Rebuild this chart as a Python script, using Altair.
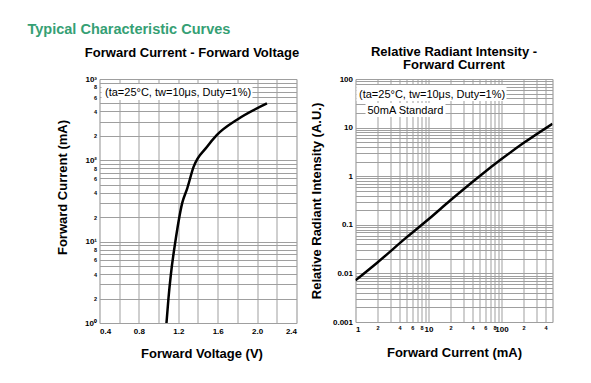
import altair as alt
import pandas as pd

# ---------------- data ----------------
# Left: Forward Current vs Forward Voltage
vf_voltage = [1.08, 1.10, 1.125, 1.17, 1.24, 1.29, 1.355, 1.49, 1.59, 1.80, 2.10]
vf_current = [1, 2, 4, 10, 30, 45, 83, 146, 204, 318, 500]

# Right: Relative Radiant Intensity vs Forward Current
ri_current = [1, 2, 5, 10, 20, 50, 100, 200, 500]
ri_intensity = [0.0072, 0.0168, 0.055, 0.13, 0.32, 1.0, 2.25, 4.8, 12]

main_title = "Typical Characteristic Curves"
left_title = "Forward Current - Forward Voltage"
right_title = ["Relative Radiant Intensity -", "Forward Current"]
left_xtitle = "Forward Voltage (V)"
left_ytitle = "Forward Current (mA)"
right_xtitle = "Forward Current (mA)"
right_ytitle = "Relative Radiant Intensity (A.U.)"
cond_text = "(ta=25°C, tw=10μs, Duty=1%)"
std_text = "50mA Standard"

# tick values / labels
lx_vals = [0.4, 0.6, 0.8, 1.0, 1.2, 1.4, 1.6, 1.8, 2.0, 2.2, 2.4]
lx_labels = [(0.4, "0.4"), (0.8, "0.8"), (1.2, "1.2"), (1.6, "1.6"), (2.0, "2.0"), (2.4, "2.4")]

ly_vals = [1, 2, 3, 4, 5, 6, 7, 8, 9, 10, 20, 30, 40, 50, 60, 70, 80, 90,
           100, 200, 300, 400, 500, 600, 700, 800, 900, 1000]
ly_major = [(1, "10⁰"), (10, "10¹"), (100, "10²"), (1000, "10³")]
ly_minor = [(2, "2"), (4, "4"), (6, "6"), (8, "8"), (20, "2"), (40, "4"), (60, "6"), (80, "8"),
            (200, "2"), (400, "4"), (600, "6"), (800, "8")]

rx_vals = [1, 2, 3, 4, 5, 6, 7, 8, 9, 10, 20, 30, 40, 50, 60, 70, 80, 90,
           100, 200, 300, 400, 500]
rx_major = [(1, "1"), (10, "10"), (100, "100")]
rx_minor = [(2, "2"), (4, "4"), (6, "6"), (8, "8"), (20, "2"), (40, "4"), (60, "6"), (80, "8"),
            (200, "2"), (400, "4")]

ry_vals = [0.001, 0.002, 0.003, 0.004, 0.005, 0.006, 0.007, 0.008, 0.009,
           0.01, 0.02, 0.03, 0.04, 0.05, 0.06, 0.07, 0.08, 0.09,
           0.1, 0.2, 0.3, 0.4, 0.5, 0.6, 0.7, 0.8, 0.9,
           1, 2, 3, 4, 5, 6, 7, 8, 9,
           10, 20, 30, 40, 50, 60, 70, 80, 90, 100]
ry_major = [(0.001, "0.001"), (0.01, "0.01"), (0.1, "0.1"), (1, "1"), (10, "10"), (100, "100")]

FONT = "Liberation Sans"
GRID = "#9f9f9f"


def label_expr(pairs):
    return ":".join(f"datum.value=={v}?'{t}'" for v, t in pairs) + ":''"


def size_cond(major, big, small):
    test = "||".join(f"datum.value=={v}" for v, _ in major)
    return {"condition": {"test": test, "value": big}, "value": small}


def axis(values, pairs, major, title, orient, big=8, small=5.5, **kw):
    return alt.Axis(
        values=values, labelExpr=label_expr(pairs), labelOverlap=False,
        labelFontSize=size_cond(major, big, small), labelFont=FONT,
        labelFontWeight="bold", labelColor="black",
        grid=True, gridColor=GRID, gridWidth=1, ticks=False, domain=False,
        title=title, titleFont=FONT, titleFontSize=13, titleFontWeight="bold",
        titleColor="black", titleBaseline="alphabetic", orient=orient, **kw)


one = pd.DataFrame({"k": [0]})

# ---------------- left chart ----------------
df_l = pd.DataFrame({"V": vf_voltage, "I": vf_current})
line_l = alt.Chart(df_l).mark_line(color="black", strokeWidth=2.5, interpolate="monotone", clip=True).encode(
    x=alt.X("V:Q", scale=alt.Scale(domain=[0.4, 2.4], nice=False, zero=False),
            axis=axis(lx_vals, lx_labels, lx_labels, left_xtitle, "bottom", big=8, small=8,
                      labelPadding=4, titleY=34, titleX=102)),
    y=alt.Y("I:Q", scale=alt.Scale(type="log", domain=[1, 1000], nice=False),
            axis=axis(ly_vals, ly_major + ly_minor, ly_major, left_ytitle, "left",
                      labelPadding=3, titleX=-33, titleY=108)),
)
box_l = alt.Chart(one).mark_rect(fill="white").encode(
    x=alt.value(2), x2=alt.value(153), y=alt.value(5), y2=alt.value(21))
txt_l = alt.Chart(one).mark_text(align="left", baseline="alphabetic", font=FONT, fontSize=11, color="black").encode(
    x=alt.value(5.5), y=alt.value(17), text=alt.value(cond_text))
left = alt.layer(line_l, box_l, txt_l).properties(
    width=197, height=244,
    title=alt.TitleParams(left_title, font=FONT, fontSize=13, fontWeight="bold", color="black",
                          anchor="middle", offset=15, dx=-6))

# ---------------- right chart ----------------
df_r = pd.DataFrame({"I": ri_current, "R": ri_intensity})
line_r = alt.Chart(df_r).mark_line(color="black", strokeWidth=2.5, interpolate="monotone", clip=True).encode(
    x=alt.X("I:Q", scale=alt.Scale(type="log", domain=[1, 500], nice=False),
            axis=axis(rx_vals, rx_major + rx_minor, rx_major, right_xtitle, "bottom",
                      labelPadding=3, titleY=34)),
    y=alt.Y("R:Q", scale=alt.Scale(type="log", domain=[0.001, 100], nice=False),
            axis=axis(ry_vals, ry_major, ry_major, right_ytitle, "left",
                      labelPadding=3, titleX=-35)),
)
box_r1 = alt.Chart(one).mark_rect(fill="white").encode(
    x=alt.value(1), x2=alt.value(151), y=alt.value(6), y2=alt.value(22))
txt_r1 = alt.Chart(one).mark_text(align="left", baseline="alphabetic", font=FONT, fontSize=11, color="black").encode(
    x=alt.value(3.5), y=alt.value(19), text=alt.value(cond_text))
box_r2 = alt.Chart(one).mark_rect(fill="white").encode(
    x=alt.value(10), x2=alt.value(90), y=alt.value(24), y2=alt.value(38))
txt_r2 = alt.Chart(one).mark_text(align="left", baseline="alphabetic", font=FONT, fontSize=11, color="black").encode(
    x=alt.value(12), y=alt.value(35), text=alt.value(std_text))
right = alt.layer(line_r, box_r1, txt_r1, box_r2, txt_r2).properties(
    width=197, height=243,
    title=alt.TitleParams(right_title, font=FONT, fontSize=13, fontWeight="bold", color="black",
                          anchor="middle", offset=3, lineHeight=13.5))

chart = alt.hconcat(left, right, spacing=59, bounds="flush").properties(
    title=alt.TitleParams(main_title, anchor="start", frame="group", dx=-72, font=FONT,
                          fontSize=14.5, fontWeight="bold", color="#35a074", offset=8),
    padding={"left": 19.5, "top": 13, "right": 5, "bottom": 5},
).configure_view(stroke="#222222", strokeWidth=1.5).configure(background="white")

chart.save("out.html", embed_options={"renderer": "svg", "actions": False})
